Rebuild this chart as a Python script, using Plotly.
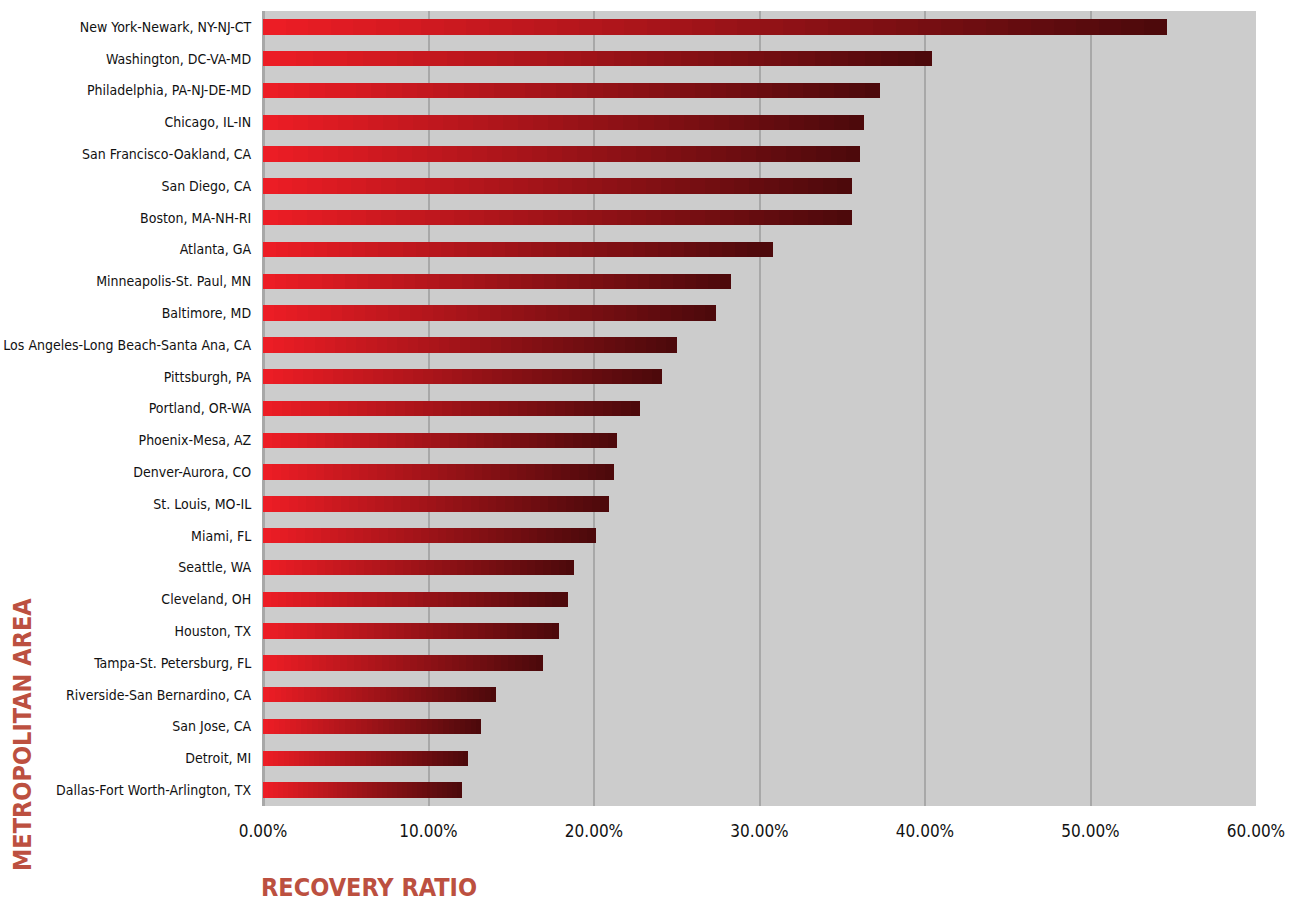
import plotly.graph_objects as go

areas = [
    "New York-Newark, NY-NJ-CT", "Washington, DC-VA-MD", "Philadelphia, PA-NJ-DE-MD",
    "Chicago, IL-IN", "San Francisco-Oakland, CA", "San Diego, CA", "Boston, MA-NH-RI",
    "Atlanta, GA", "Minneapolis-St. Paul, MN", "Baltimore, MD",
    "Los Angeles-Long Beach-Santa Ana, CA", "Pittsburgh, PA", "Portland, OR-WA",
    "Phoenix-Mesa, AZ", "Denver-Aurora, CO", "St. Louis, MO-IL", "Miami, FL",
    "Seattle, WA", "Cleveland, OH", "Houston, TX", "Tampa-St. Petersburg, FL",
    "Riverside-San Bernardino, CA", "San Jose, CA", "Detroit, MI",
    "Dallas-Fort Worth-Arlington, TX",
]
recovery_pct = [
    54.6, 40.4, 37.3, 36.3, 36.1, 35.6, 35.6, 30.8, 28.3, 27.4,
    25.0, 24.1, 22.8, 21.4, 21.2, 20.9, 20.1, 18.8, 18.4, 17.9,
    16.9, 14.1, 13.2, 12.4, 12.0,
]
x_ticks = [0, 10, 20, 30, 40, 50, 60]
x_labels = ["%.2f%%" % v for v in x_ticks]

N = 40
c0 = (238, 29, 37)
c1 = (75, 9, 11)

fig = go.Figure()
for i in range(N):
    t = (i + 0.5) / N
    col = tuple(round(a + (b - a) * t) for a, b in zip(c0, c1))
    fig.add_trace(go.Bar(
        y=areas, x=[v / N for v in recovery_pct], orientation="h",
        marker=dict(color="rgb(%d,%d,%d)" % col, line=dict(width=0)),
        hoverinfo="skip", showlegend=False,
    ))

FONT = "Liberation Sans Narrow, DejaVu Sans Condensed, sans-serif"
TITLE_FONT = "DejaVu Sans Condensed, Liberation Sans Narrow, sans-serif"

fig.update_layout(
    width=1302, height=901,
    barmode="stack", bargap=0.52,
    paper_bgcolor="white", plot_bgcolor="#cccccc",
    margin=dict(l=263, r=46, t=11, b=95, autoexpand=False),
    font=dict(family=FONT, color="#111111"),
    xaxis=dict(
        range=[0, 60], tickvals=x_ticks, ticktext=x_labels, automargin=False,
        showgrid=True, gridcolor="#a8a8a8", gridwidth=2,
        zeroline=True, zerolinecolor="#a8a8a8", zerolinewidth=3,
        ticks="outside", ticklen=10, tickcolor="rgba(0,0,0,0)",
        tickfont=dict(size=17), fixedrange=True,
    ),
    yaxis=dict(
        autorange="reversed", showgrid=False, automargin=False,
        ticks="outside", ticklen=8, tickcolor="rgba(0,0,0,0)",
        tickfont=dict(size=14), fixedrange=True,
    ),
    annotations=[
        dict(text="<b>RECOVERY RATIO</b>", xref="paper", yref="paper",
             x=0, y=-0.102, xanchor="left", yanchor="middle", xshift=-4,
             showarrow=False,
             font=dict(size=25, color="#bc5040", family=TITLE_FONT)),
        dict(text="<b>METROPOLITAN AREA</b>", xref="paper", yref="paper",
             x=-0.2427, y=0.0905, xanchor="center", yanchor="middle", textangle=-90,
             showarrow=False,
             font=dict(size=25, color="#bc5040", family=TITLE_FONT)),
    ],
)

fig.write_html("out.html", config={"displayModeBar": False},
               post_script="document.body.style.margin='0';")
